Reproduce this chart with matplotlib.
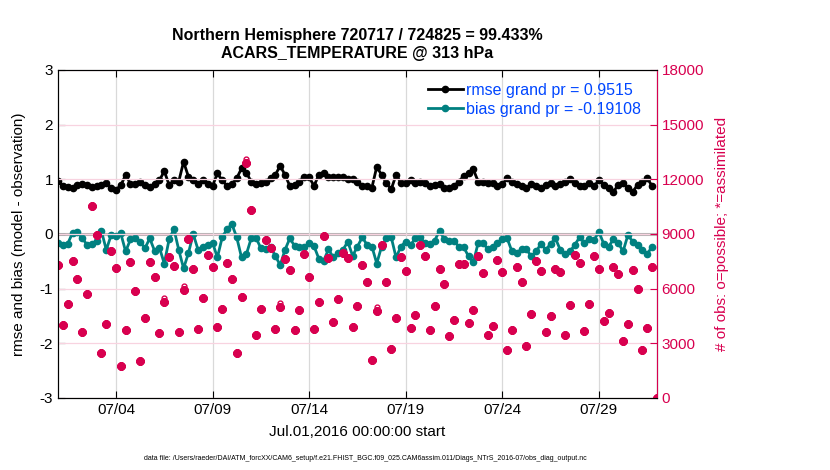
import numpy as np
import matplotlib.pyplot as plt

plt.rcParams['font.family'] = ['Liberation Sans', 'DejaVu Sans']
plt.rcParams['axes.unicode_minus'] = False

# 6-hourly bins starting Jul.01,2016 00:00
rmse = [0.97, 0.88, 0.86, 0.85, 0.90, 0.91, 0.89, 0.86, 0.88, 0.90,
        0.93, 0.85, 0.81, 0.89, 1.08, 0.92, 0.92, 0.96, 0.90, 0.86,
        0.92, 0.98, 1.15, 0.90, 0.98, 0.96, 1.32, 1.05, 0.98, 0.91,
        0.98, 0.91, 0.88, 1.11, 0.98, 0.88, 0.91, 1.02, 1.20, 1.12,
        0.96, 0.91, 0.94, 0.96, 1.02, 1.08, 1.25, 1.08, 0.88, 0.90,
        0.96, 1.05, 1.04, 0.88, 1.08, 1.11, 1.05, 1.04, 1.05, 1.05,
        1.00, 1.00, 0.96, 0.87, 0.88, 0.85, 1.23, 1.08, 0.93, 0.82,
        1.08, 0.94, 0.94, 0.98, 0.94, 0.96, 0.94, 0.87, 0.90, 0.91,
        0.84, 0.85, 0.88, 0.96, 1.06, 1.11, 1.18, 0.96, 0.96, 0.93,
        0.94, 0.88, 0.91, 1.02, 0.96, 0.91, 0.88, 0.84, 0.91, 0.87,
        0.84, 0.90, 0.93, 0.87, 0.91, 0.96, 1.00, 0.94, 0.88, 0.87,
        0.93, 0.88, 0.98, 0.90, 0.84, 0.77, 0.90, 0.93, 0.84, 0.77,
        0.90, 0.96, 1.02, 0.88]

bias = [-0.17, -0.20, -0.18, 0.02, 0.03, -0.07, -0.20, -0.18, -0.12, 0.05,
        -0.29, -0.02, -0.03, 0.01, -0.32, -0.10, -0.08, -0.14, -0.26, -0.08,
        -0.31, -0.25, -0.54, -0.10, 0.09, -0.29, -0.63, -0.35, 0.00, -0.29,
        -0.23, -0.20, -0.16, -0.43, -0.06, 0.09, 0.18, -0.06, -0.43, -0.37,
        -0.08, -0.07, -0.26, -0.28, -0.24, -0.40, -0.57, -0.29, -0.08, -0.22,
        -0.23, -0.24, -0.17, -0.22, -0.45, -0.49, -0.28, -0.43, -0.35, -0.29,
        -0.14, -0.40, -0.23, -0.06, -0.20, -0.23, -0.54, -0.23, -0.08, -0.06,
        -0.43, -0.23, -0.14, -0.20, -0.08, -0.06, -0.17, -0.18, -0.12, 0.06,
        -0.10, -0.12, -0.13, -0.23, -0.24, -0.41, -0.52, -0.16, -0.16, -0.28,
        -0.23, -0.17, -0.10, -0.08, -0.32, -0.34, -0.28, -0.28, -0.41, -0.32,
        -0.18, -0.29, -0.18, -0.08, -0.29, -0.37, -0.32, -0.20, -0.06, -0.16,
        -0.10, -0.11, 0.04, -0.18, -0.23, -0.10, -0.16, -0.32, -0.02, -0.14,
        -0.20, -0.29, -0.37, -0.23]

n_used = [7298, 4006, 5158, 7517, 6511, 3640, 5706, 10535, 8944, 2487,
          4060, 8084, 7115, 1756, 3731, 7480, 5871, 2048, 4371, 7480,
          6657, 3585, 5286, 7755, 7243, 3640, 5926, 8706, 7078, 3768,
          5469, 7847, 7206, 3878, 4865, 7389, 6511, 2487, 5560, 12913,
          10316, 3457, 4865, 8669, 8212, 3768, 5011, 7609, 7023, 3731,
          4829, 7901, 6658, 3768, 5286, 8889, 7664, 4188, 5414, 7974,
          7664, 3914, 5030, 7298, 6383, 2085, 4792, 8395, 6383, 2670,
          4371, 7718, 6987, 3823, 4554, 8395, 7791, 3731, 5048, 7060,
          6255, 3402, 4280, 7353, 7353, 4097, 4829, 7791, 6877, 3457,
          3951, 7572, 6932, 2634, 3731, 7206, 6383, 2853, 4609, 7536,
          6987, 3640, 4499, 7060, 6932, 3457, 5103, 7847, 7426, 3695,
          5158, 7791, 7060, 4243, 4646, 7206, 6804, 3146, 4060, 7023,
          5962, 2634, 3823, 7170, 0]

# bins where a few more obs were possible than assimilated
extra_possible = {22: 180, 26: 200, 39: 200, 46: 180, 66: 180}
n_poss = [n + extra_possible.get(i, 0) for i, n in enumerate(n_used)]

tick_days = [3, 8, 13, 18, 23, 28]
tick_labels = ['07/04', '07/09', '07/14', '07/19', '07/24', '07/29']

days = np.arange(len(n_used)) * 0.25
obs_color = '#d8004f'

fig = plt.figure(figsize=(8.3, 4.7), dpi=100)
ax = fig.add_axes([0.0699, 0.1532, 0.7215, 0.6979])

ax.axhline(0, color='#b5b0b2', lw=2.2, zorder=1)
ax.plot(days[:len(rmse)], rmse, '-o', color='black', lw=2, ms=4.5,
        label='rmse grand pr = 0.9515', zorder=3)
ax.plot(days[:len(bias)], bias, '-o', color='#008080', lw=2, ms=4.5,
        label='bias grand pr = -0.19108', zorder=3)

ax.set_xlim(0, 31)
ax.set_ylim(-3, 3)
ax.set_yticks([-3, -2, -1, 0, 1, 2, 3])
ax.set_xticks(tick_days)
ax.set_xticklabels(tick_labels)
ax.grid(axis='x', color='#d9d9d9', lw=0.9)
ax.tick_params(direction='in', labelsize=11, top=True, length=5)
ax.set_ylabel('rmse and bias (model - observation)', fontsize=11, labelpad=10)
ax.set_xlabel('Jul.01,2016 00:00:00 start', fontsize=11, labelpad=6)

ax2 = ax.twinx()
ax2.set_ylim(0, 18000)
ax2.set_yticks(np.arange(0, 18001, 3000))
ax2.grid(axis='y', color='#f8d3e0', lw=0.9)
ax2.plot(days, n_poss, 'o', mfc='none', mec=obs_color, ms=3.5, mew=1.0)
ax2.plot(days, n_used, marker=(8, 2, 0), ls='none', color=obs_color,
         ms=6, mew=2.2)
ax2.tick_params(direction='in', labelsize=11, colors=obs_color, length=5)
ax2.spines['right'].set_color(obs_color)
ax2.set_ylabel('# of obs: o=possible; *=assimilated', color=obs_color,
               fontsize=11, labelpad=8)

leg = ax.legend(loc='upper right', bbox_to_anchor=(0.995, 1.0), frameon=False,
                fontsize=11.5, handlelength=2.2, handletextpad=0.2,
                borderaxespad=0.4, labelspacing=0.25)
for t in leg.get_texts():
    t.set_color('#0046ff')

fig.text(0.43, 0.905, 'Northern Hemisphere 720717 / 724825 = 99.433%\nACARS_TEMPERATURE @ 313 hPa',
         ha='center', va='center', fontsize=11.5, fontweight='bold', linespacing=1.2)
fig.text(0.44, 0.025, 'data file: /Users/raeder/DAI/ATM_forcXX/CAM6_setup/f.e21.FHIST_BGC.f09_025.CAM6assim.011/Diags_NTrS_2016-07/obs_diag_output.nc',
         ha='center', va='center', fontsize=5)

fig.savefig('out.png')
